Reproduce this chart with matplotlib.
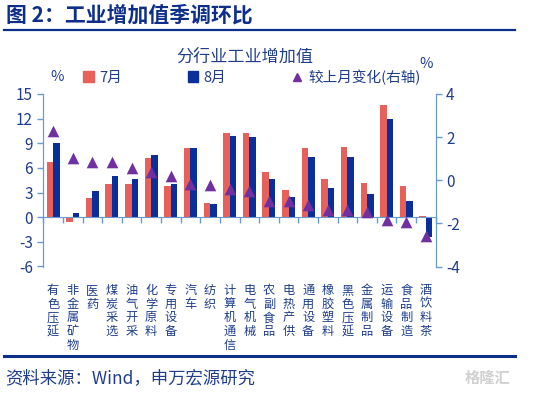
import numpy as np
import matplotlib.pyplot as plt
from matplotlib.lines import Line2D
from matplotlib.patches import Patch

plt.rcParams['font.family'] = ['Noto Sans CJK SC', 'DejaVu Sans']
plt.rcParams['axes.unicode_minus'] = False

categories = ['有色压延', '非金属矿物', '医药', '煤炭采选', '油气开采', '化学原料', '专用设备',
              '汽车', '纺织', '计算机通信', '电气机械', '农副食品', '电热产供', '通用设备',
              '橡胶塑料', '黑色压延', '金属制品', '运输设备', '食品制造', '酒饮料茶']
jul = [6.7, -0.6, 2.3, 4.1, 4.1, 7.2, 3.8, 8.4, 1.7, 10.2, 10.2, 5.45, 3.35, 8.4,
       4.7, 8.55, 4.15, 13.7, 3.85, 0.1]
aug = [9.0, 0.5, 3.2, 5.05, 4.7, 7.6, 4.0, 8.4, 1.55, 9.9, 9.75, 4.7, 2.45, 7.3,
       3.5, 7.3, 2.8, 11.9, 2.0, -2.4]
change = [2.27, 1.05, 0.85, 0.85, 0.56, 0.36, 0.19, -0.17, -0.23, -0.39, -0.48, -0.94,
          -0.94, -1.17, -1.38, -1.38, -1.49, -1.84, -1.92, -2.58]
left_ticks = [-6, -3, 0, 3, 6, 9, 12, 15]
right_ticks = [-4, -2, 0, 2, 4]

RED = '#E8605A'
BLUE = '#0A2F9A'
PURPLE = '#7030A0'
SPINE = '#6A9AD0'
TEXT = '#1F3E8C'
TITLE = '#0D2F8A'

W, H = 533, 394
fig = plt.figure(figsize=(W / 100, H / 100), dpi=100)

ax = fig.add_axes([43.3 / W, 1 - 266.5 / H, (435.7 - 43.3) / W, (266.5 - 94) / H])
ax2 = ax.twinx()

x = np.arange(len(categories))
bw = 0.33
ax.bar(x - bw / 2, jul, width=bw, color=RED, zorder=2)
ax.bar(x + bw / 2, aug, width=bw, color=BLUE, zorder=2)
ax2.scatter(x, change, marker='^', s=70, color=PURPLE, zorder=3, linewidths=0)

ax.set_xlim(-0.5, len(categories) - 0.5)
ax.set_ylim(-6, 15)
ax.set_yticks(left_ticks)
ax2.set_ylim(-4, 4)
ax2.set_yticks(right_ticks)

for a in (ax, ax2):
    a.spines['top'].set_visible(False)
    a.spines['bottom'].set_visible(False)
    a.spines['left'].set_color(SPINE)
    a.spines['right'].set_color(SPINE)
    a.tick_params(axis='y', colors=SPINE, labelcolor=TEXT, labelsize=11, length=4, width=1)
ax.spines['bottom'].set_visible(True)
ax.spines['bottom'].set_position(('data', 0))
ax.spines['bottom'].set_color(SPINE)
ax.set_xticks(x)
ax.set_xticklabels([])
ax.tick_params(axis='x', which='major', length=0)
ax.set_xticks(np.arange(len(categories) + 1) - 0.5, minor=True)
ax.tick_params(axis='x', which='minor', direction='out', length=4, color=SPINE, width=1)
ax.set_zorder(ax2.get_zorder() - 1)
ax.patch.set_visible(False)

for i, name in enumerate(categories):
    ax.text(i, -0.1, '\n'.join(name), transform=ax.get_xaxis_transform(),
            ha='center', va='top', fontsize=8.8, color=TEXT, linespacing=1.08)

# titles and legend
fig.text(6 / W, 1 - 15 / H, '图 2：工业增加值季调环比', fontsize=15, fontweight='bold',
         color=TITLE, ha='left', va='center')
fig.add_artist(Line2D([4 / W, 515 / W], [1 - 29.5 / H, 1 - 29.5 / H], color=TITLE, lw=1.6))
fig.text(245 / W, 1 - 57 / H, '分行业工业增加值', fontsize=12.3, color=TEXT, ha='center', va='center')

fig.text(50 / W, 1 - 77 / H, '%', fontsize=10.5, color=TEXT, ha='left', va='center')
fig.text(419 / W, 1 - 64 / H, '%', fontsize=10.5, color=TEXT, ha='left', va='center')
handles = [Patch(color=RED, label='7月'), Patch(color=BLUE, label='8月'),
           Line2D([], [], marker='^', color=PURPLE, linestyle='none', markersize=6,
                  label='较上月变化(右轴)')]
leg = fig.legend(handles=handles, loc='center left', bbox_to_anchor=(76 / W, 1 - 77 / H),
                 ncol=3, frameon=False, fontsize=10.5, handlelength=0.7, handleheight=0.7,
                 handletextpad=0.4, columnspacing=4.5, labelcolor=TEXT, borderpad=0)

fig.add_artist(Line2D([4 / W, 515 / W], [1 - 356 / H, 1 - 356 / H], color=TITLE, lw=2.2))
fig.text(5 / W, 1 - 378 / H, '资料来源：Wind，申万宏源研究', fontsize=12.5, color=TEXT,
         ha='left', va='center')
fig.text(488 / W, 1 - 378 / H, '格隆汇', fontsize=11, color='#D0D0D0', ha='center',
         va='center', fontweight='bold')

fig.savefig('out.png', dpi=100)
